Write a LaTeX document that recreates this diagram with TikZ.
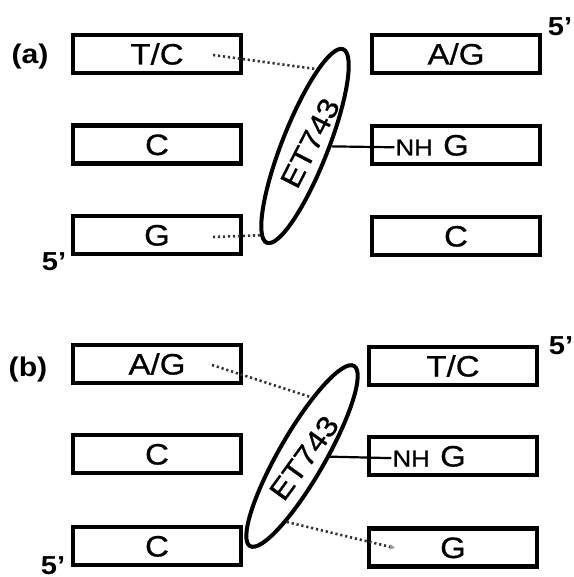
\documentclass[tikz,border=0pt]{standalone}
\usepackage{fontspec}
\setmainfont{Liberation Sans}[FakeStretch=1.12]
\newfontfamily\seqfont{Liberation Sans}[FakeStretch=1.12, FakeBold=0.7]
\usetikzlibrary{shapes.geometric,arrows.meta}
\tikzset{
  seqbox/.style={draw, line width=4.2pt, minimum width=168pt, minimum height=38pt,
    inner sep=0pt, text height=21pt, text depth=0pt, font=\seqfont\fontsize{29.5}{30}\selectfont},
  nhlabel/.style={inner sep=1pt, font=\seqfont\fontsize{23}{24}\selectfont, anchor=base east},
  drug/.style={draw, ellipse, line width=4pt, minimum width=208pt, minimum height=46pt, inner sep=0pt},
  drugtext/.style={font=\seqfont\fontsize{29}{30}\selectfont, inner sep=0pt},
  panel/.style={font=\fontsize{27}{28}\selectfont\bfseries, inner sep=0pt},
  prime/.style={font=\fontsize{26}{26}\selectfont\bfseries, inner sep=0pt},
  hbond/.style={line width=2.6pt, dash pattern=on 2.2pt off 2.8pt, black!80},
  bond/.style={line width=2.2pt},
}
\begin{document}
\begin{tikzpicture}[x=1pt,y=1pt]
\fill[white] (0,0) rectangle (573,-577);
\useasboundingbox (0,0) rectangle (573,-577);

% ---------- panel (a)
\node[panel] (aLab) at (30,-57) {(a)};
\node[seqbox] (aL1) at (157,-54) {T/C};
\node[seqbox] (aL2) at (157,-144.5) {C};
\node[seqbox] (aL3) at (157,-235) {G};
\node[seqbox] (aR1) at (456,-54) {A/G};
\node[seqbox] (aR2) at (456,-145) {G};
\node[seqbox] (aR3) at (456,-236) {C};
\node[nhlabel] (aNH) at ([xshift=-22pt]aR2.base) {NH};
\node[prime] (a5R) at (560,-27) {5'};
\node[prime] (a5L) at (54,-262) {5'};

\node[drug, rotate=68.5] (aE) at (305,-146) {};
\node[drugtext, rotate=63] (aT) at (310,-143) {ET743};

\coordinate (aD1) at (213,-55);
\coordinate (aD2) at (213,-237);
\draw[hbond] (aD1) -- (aE.13);
\draw[hbond] (aD2) -- (aE.175);
\draw[bond] (aE) -- (aNH);

% ---------- panel (b)
\node[panel] (bLab) at (28,-370) {(b)};
\node[seqbox] (bL1) at (157,-364) {A/G};
\node[seqbox] (bL2) at (157,-454) {C};
\node[seqbox] (bL3) at (157,-546) {C};
\node[seqbox] (bR1) at (453,-366) {T/C};
\node[seqbox] (bR2) at (453,-456) {G};
\node[seqbox] (bR3) at (453,-547.5) {G};
\node[nhlabel] (bNH) at ([xshift=-22pt]bR2.base) {NH};
\node[prime] (b5R) at (561,-346) {5'};
\node[prime] (b5L) at (53,-566) {5'};

\node[drug, rotate=60] (bE) at (302,-456) {};
\node[drugtext, rotate=54] (bT) at (304,-458) {ET743};

\coordinate (bD1) at (212,-365);
\coordinate (bD2) at (395,-548);
\draw[hbond] (bD1) -- (bE.21);
\draw[hbond, -{Triangle[length=5pt,width=5pt,color=black!40]}] (bE.197) -- (bD2);
\draw[bond] (bE) -- (bNH);
\end{tikzpicture}
\end{document}
